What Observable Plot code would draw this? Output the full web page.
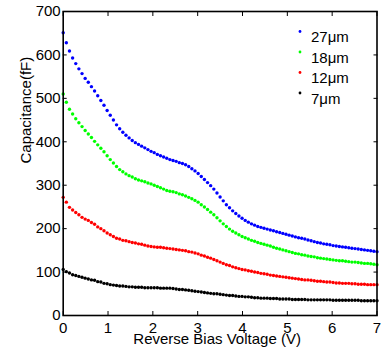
<!DOCTYPE html>
<html><head><meta charset="utf-8">
<script src="https://cdn.jsdelivr.net/npm/d3@7"></script>
<script src="https://cdn.jsdelivr.net/npm/@observablehq/plot@0.6"></script>
<style>body{margin:0;background:#fff;} svg{display:block}</style>
</head><body><div id="chart"></div>
<script>
// Voltage sweep: 0 V to 7 V in 0.07 V steps (101 samples)
const voltageStart = 0;
const voltageStep = 0.07;
const sampleCount = 101;

const seriesNames = ["27μm", "18μm", "12μm", "7μm"];

const cap27 = [651,628,609,593,580,568,557,546,537,527,517,506,495,484,472,461,450,439,430,422,415,409,403,398,394,390,386,382,378,375,371,368,365,362,359,
357,355,352,350,347,343,338,333,327,320,313,306,299,291,282,273,264,255,248,241,235,229,224,219,215,211,208,205,203,201,199,197,195,193,191,189,187,185,183,181,179,178,176,174,172,170,168,167,165,164,163,161,160,159,158,157,156,155,154,153,152,151,150,149,148,147];

const cap18 = [510,491,475,464,453,444,435,426,418,410,401,393,385,377,368,359,351,343,336,331,326,322,319,315,312,310,308,305,303,300,297,294,291,288,286,
285,283,280,278,275,272,269,265,261,255,250,244,238,232,225,218,211,205,199,194,190,186,182,179,176,173,171,168,166,164,162,160,157,155,153,151,149,147,145,143,142,140,139,137,136,135,133,132,131,130,129,128,127,126,126,125,124,123,123,122,121,120,120,119,118,117];

const cap12 = [272,261,249,243,237,232,226,222,219,214,210,204,200,195,190,186,182,178,176,173,172,170,168,167,165,164,162,160,159,158,157,157,156,155,154,
153,152,151,150,149,147,146,144,142,139,137,134,132,129,126,123,120,117,115,112,110,108,106,105,103,102,100,99,97,96,95,93,92,91,90,89,88,87,86,85,84,83,82,82,81,80,79,79,78,77,77,76,75,75,74,74,74,73,73,72,72,72,71,71,71,71];

const cap7 = [106,101,98,94,92,90,88,86,84,82,81,78,77,74,73,71,70,69,68,68,67,66,66,65,65,65,64,64,64,64,64,63,63,63,
63,62,61,60,60,59,58,57,56,55,54,53,52,51,50,50,49,48,47,46,46,45,44,44,43,43,42,41,41,40,40,40,39,39,39,38,38,38,38,37,37,37,37,37,
36,36,36,36,36,36,36,36,35,35,35,35,35,35,35,35,35,34,34,34,34,34,34];

const xTicks = [0, 1, 2, 3, 4, 5, 6, 7];
const yTicks = [0, 100, 200, 300, 400, 500, 600, 700];
const xLabel = "Reverse Bias Voltage (V)";
const yLabel = "Capacitance(fF)";

// build table
const voltages = d3.range(sampleCount).map(i => +(voltageStart + i * voltageStep).toFixed(2));
const seriesValues = [cap27, cap18, cap12, cap7];
const rows = [];
seriesValues.forEach((vals, s) => {
  vals.forEach((c, i) => rows.push({V: voltages[i], C: c, series: seriesNames[s]}));
});

const colors = ["#0000ff", "#00ff00", "#ff0000", "#000000"];
const font = "'Liberation Sans', Arial, Helvetica, sans-serif";
const intFmt = d => String(d);

const legendMarks = [];
seriesNames.forEach((name, k) => {
  legendMarks.push(Plot.dot([name], {frameAnchor: "top-right", dx: -77, dy: 20 + k * 20.5, r: 1.4, fill: colors[k]}));
  legendMarks.push(Plot.text([name], {frameAnchor: "top-right", dx: -66, dy: 20 + k * 20.5, textAnchor: "start", fontSize: 15, fill: "#000"}));
});

const chart = Plot.plot({
  width: 386,
  height: 354,
  marginLeft: 62.7,
  marginRight: 9.5,
  marginTop: 11,
  marginBottom: 39,
  style: {fontFamily: font, fontSize: "15px", color: "#000", background: "#fff"},
  x: {domain: [0, 7]},
  y: {domain: [0, 700]},
  color: {domain: seriesNames, range: colors},
  marks: [
    Plot.dot(rows, {x: "V", y: "C", fill: "series", r: 1.7}),
    Plot.axisX({ticks: xTicks, tickSize: -4, tickPadding: 11, tickFormat: intFmt, label: null, fontSize: 15}),
    Plot.axisX({anchor: "top", ticks: xTicks, tickSize: -4, tickFormat: () => "", label: null}),
    Plot.axisY({ticks: yTicks, tickSize: -4, tickPadding: 6.5, tickFormat: intFmt, label: null, fontSize: 15}),
    Plot.axisY({anchor: "right", ticks: yTicks, tickSize: -4, tickFormat: () => "", label: null}),
    Plot.frame({stroke: "#000", strokeWidth: 1.6}),
    Plot.text([yLabel], {frameAnchor: "left", rotate: -90, dx: -37, fontSize: 15, fill: "#000"}),
    Plot.text([xLabel], {frameAnchor: "bottom", dy: 28, dx: -3, fontSize: 15, fill: "#000"}),
    ...legendMarks
  ]
});
document.getElementById("chart").appendChild(chart);
</script>
</body></html>
